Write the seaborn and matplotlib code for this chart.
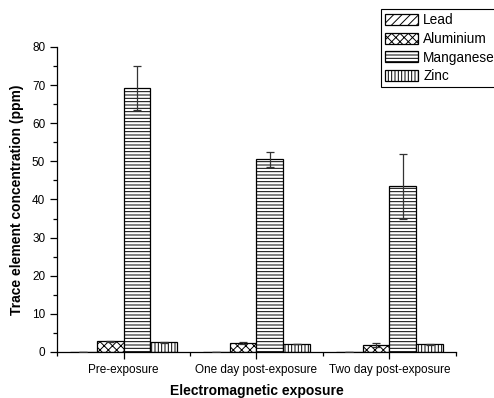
import pandas as pd
import numpy as np
import matplotlib
matplotlib.use("Agg")
import matplotlib.pyplot as plt
from matplotlib.ticker import MultipleLocator, FixedLocator
import seaborn as sns

exposures = ["Pre-exposure", "One day post-exposure", "Two day post-exposure"]
elements = ["Lead", "Aluminium", "Manganese", "Zinc"]

lead = [0.1, 0.1, 0.1]
aluminium = [2.8, 2.3, 1.8]
manganese = [69.3, 50.5, 43.5]
zinc = [2.5, 2.1, 2.0]

lead_err = [0.02, 0.02, 0.02]
aluminium_err = [0.2, 0.2, 0.5]
manganese_err = [5.8, 2.0, 8.5]
zinc_err = [0.1, 0.1, 0.1]

hatches = ["////", "xxxx", "-----", "|||||"]

values = [lead, aluminium, manganese, zinc]
errors = [lead_err, aluminium_err, manganese_err, zinc_err]

df = pd.DataFrame({
    "exposure": np.tile(exposures, len(elements)),
    "element": np.repeat(elements, len(exposures)),
    "value": np.concatenate(values),
})

sns.set_style("ticks")
plt.rcParams["font.family"] = ["Liberation Sans", "DejaVu Sans"]
plt.rcParams["hatch.color"] = "black"
plt.rcParams["hatch.linewidth"] = 0.7
plt.rcParams["text.color"] = "black"
plt.rcParams["axes.labelcolor"] = "black"
plt.rcParams["xtick.color"] = "black"
plt.rcParams["ytick.color"] = "black"

fig = plt.figure(figsize=(4.94, 3.98), dpi=100)
ax = fig.add_axes([0.1154, 0.1156, 0.8076, 0.7664])

sns.barplot(data=df, x="exposure", y="value", hue="element", order=exposures,
            hue_order=elements, width=0.81, errorbar=None, ax=ax,
            color="white", edgecolor="black", linewidth=0.9, legend=False)

handles = []
for cont, h, errs in zip(ax.containers, hatches, errors):
    for bar, e in zip(cont, errs):
        bar.set_facecolor("white")
        bar.set_hatch(h)
        xc = bar.get_x() + bar.get_width() / 2
        ax.errorbar(xc, bar.get_height(), yerr=e, color="#333333",
                    elinewidth=0.9, capsize=3, capthick=0.9, fmt="none", zorder=5)
    handles.append(cont[0])

ax.set_xlim(-0.5, 2.5)
ax.set_ylim(0, 80)
ax.yaxis.set_major_locator(MultipleLocator(10))
ax.yaxis.set_minor_locator(MultipleLocator(5))
ax.xaxis.set_minor_locator(FixedLocator([-0.5, 0.5, 1.5, 2.5]))
ax.tick_params(axis="both", which="major", direction="out", length=5, width=0.9,
               labelsize=8.5, color="black", labelcolor="black")
ax.tick_params(axis="both", which="minor", direction="out", length=3, width=0.9,
               color="black")
sns.despine(ax=ax)
for s in ["left", "bottom"]:
    ax.spines[s].set_linewidth(0.9)
    ax.spines[s].set_color("black")

ax.set_xlabel("Electromagnetic exposure", fontsize=10, fontweight="bold",
              labelpad=6, color="black")
ax.set_ylabel("Trace element concentration (ppm)", fontsize=10, fontweight="bold",
              labelpad=6, color="black")

leg = fig.legend(handles, elements, loc="upper left",
                 bbox_to_anchor=(381 / 494, 1 - 9 / 398), borderaxespad=0,
                 fontsize=9.8, frameon=True, fancybox=False, framealpha=1,
                 handlelength=2.4, handleheight=0.85, handletextpad=0.4,
                 labelspacing=0.35, borderpad=0.3)
leg.get_frame().set_edgecolor("black")
leg.get_frame().set_linewidth(0.8)
for t in leg.get_texts():
    t.set_color("black")

fig.savefig("out.png", dpi=100)
